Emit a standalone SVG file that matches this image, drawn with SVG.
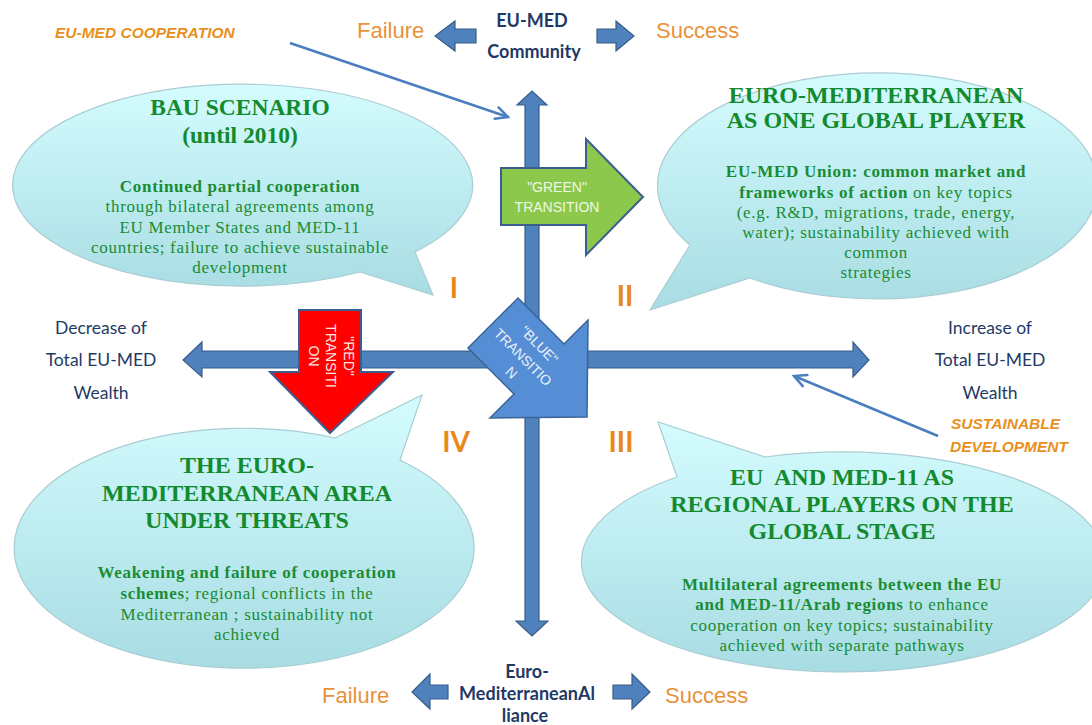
<svg xmlns="http://www.w3.org/2000/svg" width="1092" height="725" viewBox="0 0 1092 725">
<defs>
<linearGradient id="bub" x1="0" y1="0" x2="0" y2="1">
<stop offset="0" stop-color="#D4FCFE"/>
<stop offset="1" stop-color="#A8DCE3"/>
</linearGradient>
<marker id="open" markerUnits="userSpaceOnUse" markerWidth="16" markerHeight="16" viewBox="0 0 16 16" refX="14" refY="8" orient="auto">
<path d="M2,2 L14,8 L2,14" fill="none" stroke="#4A7EC0" stroke-width="2.5" stroke-linecap="round"/>
</marker>
<style>
.bubble{fill:url(#bub);stroke:#A9CDD3;stroke-width:1.2}
.ttl{font-family:"Liberation Serif","Times New Roman",serif;font-weight:bold;fill:#138A2E;text-anchor:middle}
.bd{font-family:"Liberation Serif","Times New Roman",serif;font-size:17px;letter-spacing:0.7px;fill:#1A8C33;text-anchor:middle}
.b{font-weight:bold}
.axis{fill:#4F81BD;stroke:#385D8A;stroke-width:1.2}
.thin{fill:none;stroke:#4A7EC0;stroke-width:2.5;marker-end:url(#open)}
.org{font-family:"Liberation Sans",Arial,sans-serif;font-size:22px;fill:#E8923A}
.orgbi{font-family:"Liberation Sans",Arial,sans-serif;font-size:15.5px;font-weight:bold;font-style:italic;fill:#E8901E}
.navyb{font-family:Lato,"Liberation Sans",sans-serif;font-weight:bold;font-size:18px;fill:#1F3864;text-anchor:middle}
.navy{font-family:Lato,"Liberation Sans",sans-serif;font-size:17.5px;fill:#1F3A66;text-anchor:middle}
.rom{font-family:Lato,"Liberation Sans",sans-serif;font-weight:bold;font-size:28px;fill:#E88A1A;text-anchor:middle}
.tr{font-family:"Liberation Sans",Arial,sans-serif;font-size:14px;text-anchor:middle}
</style>
</defs>
<rect width="1092" height="725" fill="#FFFFFF"/>

<g id="bubble-I">
<path class="bubble" d="M 415 252 L 433 295 L 360 272 A 230 101 0 1 1 415 252 Z"/>
<text class="ttl" font-size="23.5" x="240" y="115">BAU SCENARIO</text>
<text class="ttl" font-size="23.5" x="240" y="143">(until 2010)</text>
<text class="bd b" x="240" y="192">Continued partial cooperation</text>
<text class="bd" x="240" y="212">through bilateral agreements among</text>
<text class="bd" x="240" y="233">EU Member States and MED-11</text>
<text class="bd" x="240" y="253">countries; failure to achieve sustainable</text>
<text class="bd" x="240" y="273">development</text>
</g>

<g id="bubble-II">
<path class="bubble" d="M 690 245 L 650 310 L 750 278 A 220 113 0 1 0 690 245 Z"/>
<text class="ttl" font-size="24" x="876" y="103">EURO-MEDITERRANEAN</text>
<text class="ttl" font-size="24" x="876" y="128">AS ONE GLOBAL PLAYER</text>
<text class="bd b" x="876" y="177">EU-MED Union: common market and</text>
<text class="bd" x="876" y="198"><tspan class="b">frameworks of action</tspan> on key topics</text>
<text class="bd" x="876" y="218">(e.g. R&amp;D, migrations, trade, energy,</text>
<text class="bd" x="876" y="238">water); sustainability achieved with</text>
<text class="bd" x="876" y="258">common</text>
<text class="bd" x="876" y="278">strategies</text>
</g>

<g id="bubble-III">
<path class="bubble" d="M 677 477 L 658 422 L 765 457 A 262 110 0 1 1 677 477 Z"/>
<text class="ttl" font-size="24" x="842" y="485" xml:space="preserve">EU  AND MED-11 AS</text>
<text class="ttl" font-size="24" x="842" y="512">REGIONAL PLAYERS ON THE</text>
<text class="ttl" font-size="24" x="842" y="539">GLOBAL STAGE</text>
<text class="bd b" x="842" y="590">Multilateral agreements between the EU</text>
<text class="bd" x="842" y="610"><tspan class="b">and MED-11/Arab regions</tspan> to enhance</text>
<text class="bd" x="842" y="631">cooperation on key topics; sustainability</text>
<text class="bd" x="842" y="651">achieved with separate pathways</text>
</g>

<g id="bubble-IV">
<path class="bubble" d="M 335 438 L 422 395 L 400 460 A 230 120 0 1 1 335 438 Z"/>
<text class="ttl" font-size="24" x="247" y="473">THE EURO-</text>
<text class="ttl" font-size="24" x="247" y="501">MEDITERRANEAN AREA</text>
<text class="ttl" font-size="24" x="247" y="528">UNDER THREATS</text>
<text class="bd b" x="247" y="578">Weakening and failure of cooperation</text>
<text class="bd" x="247" y="599"><tspan class="b">schemes</tspan>; regional conflicts in the</text>
<text class="bd" x="247" y="620">Mediterranean ; sustainability not</text>
<text class="bd" x="247" y="640">achieved</text>
</g>

<g id="connectors">
<path class="axis" d="M 525 105 L 517 105 L 532 91 L 547 105 L 539 105 L 539 621 L 548 621 L 532 636 L 516 621 L 525 621 Z"/>
<path class="axis" d="M 202 351 L 202 342 L 183 360 L 202 377 L 202 368 L 853 368 L 853 377 L 869 360 L 853 342 L 853 351 Z"/>
<line class="thin" x1="290" y1="43" x2="508" y2="117"/>
<line class="thin" x1="938" y1="436" x2="794" y2="376"/>
</g>

<g id="top-scale">
<text class="orgbi" x="55" y="38">EU-MED COOPERATION</text>
<text class="org" x="357" y="38">Failure</text>
<path class="axis" d="M 476 29 L 455 29 L 455 21 L 435 36 L 455 51 L 455 43 L 476 43 Z"/>
<text class="navyb" x="532" y="27">EU-MED</text>
<text class="navyb" x="534" y="58">Community</text>
<path class="axis" d="M 597 29 L 616 29 L 616 21 L 634 36 L 616 51 L 616 43 L 597 43 Z"/>
<text class="org" x="656" y="38">Success</text>
</g>

<g id="bottom-scale">
<text class="org" x="322" y="703">Failure</text>
<path class="axis" d="M 448 685 L 430 685 L 430 674 L 412 692 L 430 709 L 430 699 L 448 699 Z"/>
<text class="navyb" x="527" y="678">Euro-</text>
<text class="navyb" x="527" y="700">MediterraneanAl</text>
<text class="navyb" x="525" y="722">liance</text>
<path class="axis" d="M 613 685 L 632 685 L 632 674 L 650 692 L 632 709 L 632 699 L 613 699 Z"/>
<text class="org" x="665" y="703">Success</text>
</g>

<g id="left-label">
<text class="navy" x="101" y="334">Decrease of</text>
<text class="navy" x="101" y="366">Total EU-MED</text>
<text class="navy" x="101" y="399">Wealth</text>
</g>

<g id="right-label">
<text class="navy" x="990" y="334">Increase of</text>
<text class="navy" x="990" y="366">Total EU-MED</text>
<text class="navy" x="990" y="399">Wealth</text>
<text class="orgbi" x="951" y="429">SUSTAINABLE</text>
<text class="orgbi" x="950" y="452">DEVELOPMENT</text>
</g>

<g id="numerals">
<text class="rom" x="454" y="298">I</text>
<text class="rom" x="625" y="306">II</text>
<text class="rom" x="621" y="452">III</text>
<text class="rom" x="456" y="452">IV</text>
</g>

<g id="green-transition">
<path d="M 501 168 L 586 168 L 586 139 L 643 197 L 586 255 L 586 225 L 501 225 Z" fill="#8CC84B" stroke="#3B5E91" stroke-width="2"/>
<text class="tr" x="557" y="192" fill="#EEF7E2">"GREEN"</text>
<text class="tr" x="557" y="212" fill="#EEF7E2">TRANSITION</text>
</g>

<g id="red-transition">
<path d="M 299 310 L 361 310 L 361 372 L 393 372 L 330 433 L 270 372 L 299 372 Z" fill="#FF0000" stroke="#3B5E91" stroke-width="2"/>
<g transform="translate(331,356) rotate(90)">
<text class="tr" x="0" y="-13" fill="#FFE6E6">"RED"</text>
<text class="tr" x="0" y="5" fill="#FFE6E6">TRANSITI</text>
<text class="tr" x="0" y="22" fill="#FFE6E6">ON</text>
</g>
</g>

<g id="blue-transition">
<path d="M 518 298 L 564 344 L 588 320 L 587 417 L 490 418 L 514 394 L 468 348 Z" fill="#558ED5" stroke="#3A6397" stroke-width="1.5"/>
<g transform="translate(523,357) rotate(45)">
<text class="tr" x="3" y="-15" fill="#EAF1FB">"BLUE"</text>
<text class="tr" x="0" y="5" fill="#EAF1FB">TRANSITIO</text>
<text class="tr" x="3" y="24" fill="#EAF1FB">N</text>
</g>
</g>
</svg>
